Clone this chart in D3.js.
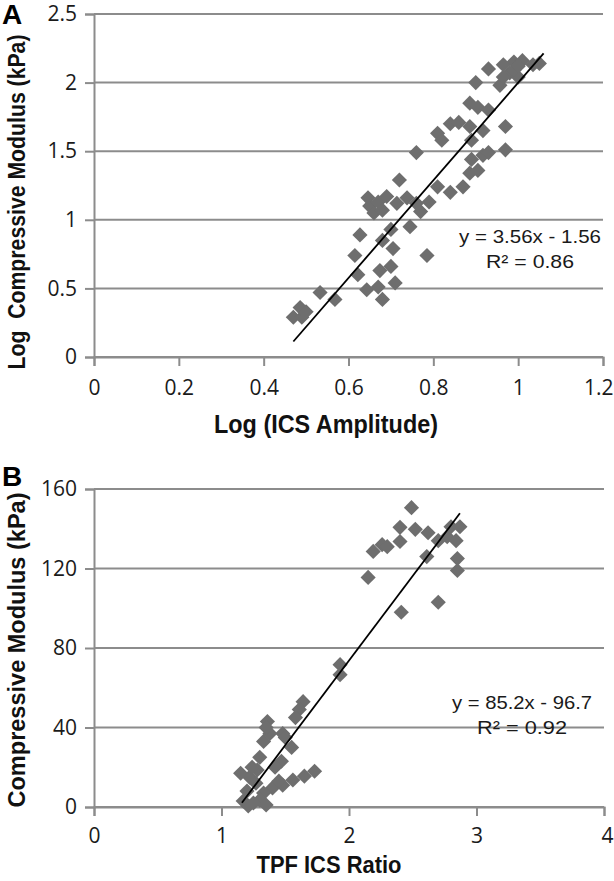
<!DOCTYPE html>
<html><head><meta charset="utf-8">
<script src="https://cdn.jsdelivr.net/npm/d3@7"></script>
<style>
html,body{margin:0;padding:0;background:#fff;}
svg{display:block;}
text{white-space:pre;}
</style></head>
<body>
<svg id="chart" width="614" height="881"></svg>
<script>
// ---------- DATA ----------
const xTicksA = [0, 0.2, 0.4, 0.6, 0.8, 1, 1.2];
const yTicksA = [0, 0.5, 1, 1.5, 2, 2.5];
const xTicksB = [0, 1, 2, 3, 4];
const yTicksB = [0, 40, 80, 120, 160];

const logAmplitude = [0.47,0.49,0.486,0.50,0.533,0.568,0.615,0.622,0.627,0.643,0.646,0.65,0.66,0.67,0.68,0.69,0.67,0.674,0.68,0.68,0.70,0.70,0.705,0.71,0.714,0.72,0.738,0.745,0.76,0.77,0.785,0.79,0.76,0.81,0.84,0.87,0.886,0.89,0.905,0.917,0.93,0.97,0.81,0.82,0.84,0.86,0.886,0.89,0.917,0.97,0.886,0.905,0.93,0.90,0.957,0.93,0.965,0.99,1.01,1.035,1.05,0.98,1.0,0.965,0.99,1.0];
const logModulus   = [0.29,0.29,0.36,0.33,0.47,0.42,0.74,0.60,0.89,0.49,1.16,1.10,1.05,1.13,1.07,1.17,0.51,0.63,0.42,0.85,0.93,0.66,0.79,0.54,1.12,1.29,1.16,0.95,1.12,1.06,0.74,1.13,1.49,1.24,1.20,1.24,1.34,1.44,1.36,1.47,1.49,1.51,1.63,1.58,1.70,1.71,1.68,1.58,1.65,1.68,1.85,1.82,1.80,2.00,1.98,2.10,2.13,2.15,2.16,2.13,2.14,2.07,2.04,2.04,2.09,2.12];

const tpfRatio = [2.49,2.40,2.52,2.62,2.26,2.19,2.40,2.61,2.77,2.15,2.41,2.70,2.80,2.84,2.87,2.85,2.85,2.30,2.70,1.93,1.93,1.64,1.61,1.58,1.36,1.48,1.33,1.55,1.47,1.73,1.65,1.56,1.48,1.40,1.33,1.28,1.22,1.30,1.25,1.15,1.17,1.20,1.24,1.27,1.30,1.38,1.35,1.42,1.50,1.21,1.35,1.45];
const modulusB = [150.6,140.7,139.7,138,132,128.6,133.6,126,136,115.5,98,103,141,134,141,125,119,131,134,71.6,66.6,53,49,45,43,37,33,30,23,18,15.5,13.6,11,9.6,7,18.6,15,3.5,2,17,3,8,20,12,25,37,40,20,35,0.5,1,13];

const fitA = {slope: 3.56, intercept: -1.56, x0: 0.47, x1: 1.06, eq: "y = 3.56x - 1.56", r2: "R² = 0.86"};
const fitB = {slope: 85.2, intercept: -96.7, x0: 1.16, x1: 2.87, eq: "y = 85.2x - 96.7", r2: "R² = 0.92"};

// ---------- DRAW ----------
const svg = d3.select("#chart");
const GRID = "#8c8c8c", MARK = "#6e6e6e";
const tickFont = "'Open Sans', 'DejaVu Sans', sans-serif";
const titleFont = "'Liberation Sans Narrow', 'Liberation Sans', Arial, sans-serif";

function panel(cfg) {
  const x = d3.scaleLinear().domain(cfg.xDomain).range(cfg.xRange);
  const y = d3.scaleLinear().domain(cfg.yDomain).range(cfg.yRange);
  const g = svg.append("g");

  g.selectAll("line.grid").data(cfg.yTicks).join("line")
    .attr("x1", x.range()[0]).attr("x2", x.range()[1])
    .attr("y1", d => y(d)).attr("y2", d => y(d))
    .attr("stroke", GRID).attr("stroke-width", 2);

  const yAxis = d3.axisLeft(y).tickValues(cfg.yTicks).tickSize(9).tickPadding(8)
      .tickFormat(d => String(d));
  const ya = g.append("g").attr("transform", `translate(${x.range()[0]},0)`).call(yAxis);
  ya.select(".domain").attr("stroke", GRID).attr("stroke-width", 2);
  ya.selectAll(".tick line").attr("stroke", GRID).attr("stroke-width", 2);
  ya.selectAll(".tick text").attr("font-family", tickFont).attr("font-size", 21).attr("fill", "#1a1a1a");

  const xAxis = d3.axisBottom(x).tickValues(cfg.xTicks).tickSize(9).tickPadding(cfg.xPad)
      .tickFormat(d => String(d));
  const xa = g.append("g").attr("transform", `translate(0,${y(0)})`).call(xAxis);
  xa.select(".domain").attr("stroke", GRID).attr("stroke-width", 2);
  xa.selectAll(".tick line").attr("stroke", GRID).attr("stroke-width", 2);
  xa.selectAll(".tick text").attr("font-family", tickFont).attr("font-size", 21).attr("fill", "#1a1a1a");
  xa.selectAll(".tick text").filter((d, i, n) => i === n.length - 1)
    .attr("text-anchor", "end").attr("x", 613 - x.range()[1]);

  const sq = d3.symbol().type(d3.symbolSquare).size(115);
  g.selectAll("path.pt").data(cfg.xs.map((v, i) => [v, cfg.ys[i]])).join("path")
    .attr("d", sq)
    .attr("transform", d => `translate(${x(d[0])},${y(d[1])}) rotate(45)`)
    .attr("fill", MARK);

  const f = cfg.fit;
  g.append("line")
    .attr("x1", x(f.x0)).attr("y1", y(f.slope * f.x0 + f.intercept))
    .attr("x2", x(f.x1)).attr("y2", y(f.slope * f.x1 + f.intercept))
    .attr("stroke", "#000").attr("stroke-width", 1.8);

  g.append("text").attr("x", cfg.eqX).attr("y", cfg.eqY).attr("text-anchor", "middle")
    .attr("font-family", "'Liberation Sans', Arial, sans-serif").attr("font-size", 19)
    .attr("textLength", cfg.eqLen).attr("lengthAdjust", "spacingAndGlyphs")
    .attr("fill", "#1a1a1a").text(f.eq);
  g.append("text").attr("x", cfg.eqX).attr("y", cfg.eqY + 25).attr("text-anchor", "middle")
    .attr("font-family", "'Liberation Sans', Arial, sans-serif").attr("font-size", 19)
    .attr("textLength", cfg.r2Len).attr("lengthAdjust", "spacingAndGlyphs")
    .attr("fill", "#1a1a1a").text(f.r2);

  g.append("text").attr("x", cfg.xtX).attr("y", cfg.xtY).attr("text-anchor", "middle")
    .attr("font-family", titleFont).attr("font-weight", "bold").attr("font-size", cfg.xtSize)
    .attr("textLength", cfg.xtLen).attr("lengthAdjust", "spacingAndGlyphs")
    .attr("fill", "#111").text(cfg.xTitle);
  g.append("text").attr("transform", `translate(${cfg.ytX},${cfg.ytY}) rotate(-90)`)
    .attr("text-anchor", "middle")
    .attr("font-family", titleFont).attr("font-weight", "bold").attr("font-size", 23)
    .attr("textLength", cfg.ytLen).attr("lengthAdjust", "spacingAndGlyphs")
    .attr("fill", "#111").text(cfg.yTitle);
  g.append("text").attr("x", 2).attr("y", cfg.letterY)
    .attr("font-family", "'Liberation Sans', Arial, sans-serif").attr("font-weight", "bold")
    .attr("font-size", 28).attr("fill", "#000").text(cfg.letter);
}

panel({
  xDomain: [0, 1.2], xRange: [94, 603], yDomain: [0, 2.5], yRange: [357, 14],
  xTicks: xTicksA, yTicks: yTicksA, xs: logAmplitude, ys: logModulus, fit: fitA, xPad: 14,
  eqX: 530, eqY: 243, eqLen: 142, r2Len: 88,
  xTitle: "Log (ICS Amplitude)", xtX: 326, xtY: 433, xtLen: 224, xtSize: 26,
  yTitle: "Log  Compressive Modulus (kPa)", ytX: 25, ytY: 202, ytLen: 335,
  letter: "A", letterY: 24
});
panel({
  xDomain: [0, 4], xRange: [94, 604], yDomain: [0, 160], yRange: [807, 489],
  xTicks: xTicksB, yTicks: yTicksB, xs: tpfRatio, ys: modulusB, fit: fitB, xPad: 12,
  eqX: 522, eqY: 709, eqLen: 140, r2Len: 90,
  xTitle: "TPF ICS Ratio", xtX: 329, xtY: 873, xtLen: 145, xtSize: 24,
  yTitle: "Compressive Modulus (kPa)", ytX: 25, ytY: 650, ytLen: 315,
  letter: "B", letterY: 486
});
</script>
</body></html>
